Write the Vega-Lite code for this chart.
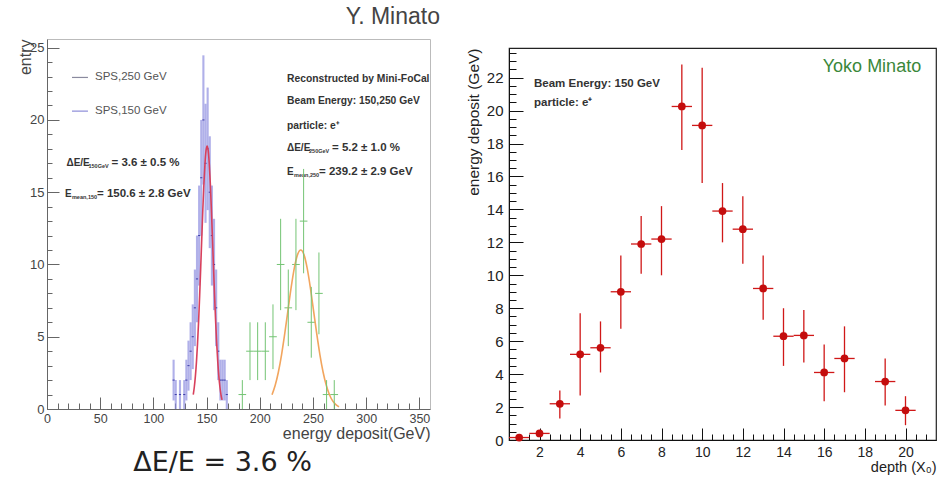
{
  "$schema": "https://vega.github.io/schema/vega-lite/v6.json",
  "background": "white",
  "padding": {"left": 16, "top": 5, "right": 8, "bottom": 0},
  "config": {"font": "Liberation Sans"},
  "spacing": 24,
  "datasets": {
    "blue": [
      {"e0": 118, "e1": 120, "n": 2, "lo": 0.59, "hi": 3.41},
      {"e0": 120, "e1": 122, "n": 1, "lo": 0, "hi": 2},
      {"e0": 124, "e1": 126, "n": 1, "lo": 0, "hi": 2},
      {"e0": 128, "e1": 130, "n": 1, "lo": 0, "hi": 2},
      {"e0": 130, "e1": 132, "n": 2, "lo": 0.59, "hi": 3.41},
      {"e0": 132, "e1": 134, "n": 3, "lo": 1.27, "hi": 4.73},
      {"e0": 134, "e1": 136, "n": 4, "lo": 2, "hi": 6},
      {"e0": 136, "e1": 138, "n": 5, "lo": 2.76, "hi": 7.24},
      {"e0": 138, "e1": 140, "n": 7, "lo": 4.35, "hi": 9.65},
      {"e0": 140, "e1": 142, "n": 9, "lo": 6, "hi": 12},
      {"e0": 142, "e1": 144, "n": 12, "lo": 8.54, "hi": 15.46},
      {"e0": 144, "e1": 146, "n": 16, "lo": 12, "hi": 20},
      {"e0": 146, "e1": 148, "n": 20, "lo": 15.53, "hi": 24.47},
      {"e0": 148, "e1": 150, "n": 17, "lo": 12.88, "hi": 21.12},
      {"e0": 150, "e1": 152, "n": 18, "lo": 13.76, "hi": 22.24},
      {"e0": 152, "e1": 154, "n": 15, "lo": 11.13, "hi": 18.87},
      {"e0": 154, "e1": 156, "n": 12, "lo": 8.54, "hi": 15.46},
      {"e0": 156, "e1": 158, "n": 10, "lo": 6.84, "hi": 13.16},
      {"e0": 158, "e1": 160, "n": 7, "lo": 4.35, "hi": 9.65},
      {"e0": 160, "e1": 162, "n": 4, "lo": 2, "hi": 6},
      {"e0": 162, "e1": 164, "n": 2, "lo": 0.59, "hi": 3.41},
      {"e0": 164, "e1": 166, "n": 2, "lo": 0.59, "hi": 3.41},
      {"e0": 166, "e1": 168, "n": 2, "lo": 0.59, "hi": 3.41},
      {"e0": 168, "e1": 170, "n": 1, "lo": 0, "hi": 2}
    ],
    "green": [
      {"c": 183.6, "e0": 180, "e1": 187.2, "n": 1, "lo": 0, "hi": 2},
      {"c": 190.8, "e0": 187.2, "e1": 194.4, "n": 4, "lo": 2, "hi": 6},
      {"c": 198, "e0": 194.4, "e1": 201.6, "n": 4, "lo": 2, "hi": 6},
      {"c": 205.2, "e0": 201.6, "e1": 208.8, "n": 4, "lo": 2, "hi": 6},
      {"c": 212.4, "e0": 208.8, "e1": 216, "n": 5, "lo": 2.76, "hi": 7.24},
      {"c": 219.6, "e0": 216, "e1": 223.2, "n": 10, "lo": 6.84, "hi": 13.16},
      {"c": 226.8, "e0": 223.2, "e1": 230.4, "n": 7, "lo": 4.35, "hi": 9.65},
      {"c": 234, "e0": 230.4, "e1": 237.6, "n": 10, "lo": 6.84, "hi": 13.16},
      {"c": 241.2, "e0": 237.6, "e1": 244.8, "n": 13, "lo": 9.39, "hi": 16.61},
      {"c": 248.4, "e0": 244.8, "e1": 252, "n": 6, "lo": 3.55, "hi": 8.45},
      {"c": 255.6, "e0": 252, "e1": 259.2, "n": 8, "lo": 5.17, "hi": 10.83},
      {"c": 262.8, "e0": 259.2, "e1": 266.4, "n": 1, "lo": 0, "hi": 2},
      {"c": 270, "e0": 266.4, "e1": 273.6, "n": 1, "lo": 0, "hi": 2}
    ],
    "redfit": [
      {"x": 137.5, "y": 1.0}, {"x": 138.5, "y": 1.54}, {"x": 139.5, "y": 2.29}, {"x": 140.5, "y": 3.28},
      {"x": 141.5, "y": 4.54}, {"x": 142.5, "y": 6.07}, {"x": 143.5, "y": 7.86}, {"x": 144.5, "y": 9.82},
      {"x": 145.5, "y": 11.85}, {"x": 146.5, "y": 13.84}, {"x": 147.5, "y": 15.6}, {"x": 148.5, "y": 16.99},
      {"x": 149.5, "y": 17.89}, {"x": 150.5, "y": 18.2}, {"x": 151.5, "y": 17.89}, {"x": 152.5, "y": 16.99},
      {"x": 153.5, "y": 15.6}, {"x": 154.5, "y": 13.84}, {"x": 155.5, "y": 11.85}, {"x": 156.5, "y": 9.82},
      {"x": 157.5, "y": 7.86}, {"x": 158.5, "y": 6.07}, {"x": 159.5, "y": 4.54}, {"x": 160.5, "y": 3.28},
      {"x": 161.5, "y": 2.29}, {"x": 162.5, "y": 1.54}, {"x": 163.5, "y": 1.0}, {"x": 164.5, "y": 0.63}
    ],
    "orangefit": [
      {"x": 211.5, "y": 0.99}, {"x": 214.5, "y": 1.64}, {"x": 217.5, "y": 2.56}, {"x": 220.5, "y": 3.77},
      {"x": 223.5, "y": 5.23}, {"x": 226.5, "y": 6.83}, {"x": 229.5, "y": 8.42}, {"x": 232.5, "y": 9.77},
      {"x": 235.5, "y": 10.68}, {"x": 238.5, "y": 11.0}, {"x": 241.5, "y": 10.68}, {"x": 244.5, "y": 9.77},
      {"x": 247.5, "y": 8.42}, {"x": 250.5, "y": 6.83}, {"x": 253.5, "y": 5.23}, {"x": 256.5, "y": 3.77},
      {"x": 259.5, "y": 2.56}, {"x": 262.5, "y": 1.64}, {"x": 265.5, "y": 0.99}, {"x": 268.5, "y": 0.56},
      {"x": 271.5, "y": 0.3}, {"x": 274.5, "y": 0.15}
    ],
    "depth": [
      {"depth": 1, "d0": 0.5, "d1": 1.5, "v": 0.15, "lo": 0.05, "hi": 0.25},
      {"depth": 2, "d0": 1.5, "d1": 2.5, "v": 0.4, "lo": 0.2, "hi": 0.6},
      {"depth": 3, "d0": 2.5, "d1": 3.5, "v": 2.2, "lo": 1.3, "hi": 3.0},
      {"depth": 4, "d0": 3.5, "d1": 4.5, "v": 5.2, "lo": 2.7, "hi": 7.7},
      {"depth": 5, "d0": 4.5, "d1": 5.5, "v": 5.6, "lo": 4.1, "hi": 7.2},
      {"depth": 6, "d0": 5.5, "d1": 6.5, "v": 9.0, "lo": 6.75, "hi": 11.2},
      {"depth": 7, "d0": 6.5, "d1": 7.5, "v": 11.9, "lo": 10.1, "hi": 13.6},
      {"depth": 8, "d0": 7.5, "d1": 8.5, "v": 12.2, "lo": 10.0, "hi": 14.2},
      {"depth": 9, "d0": 8.5, "d1": 9.5, "v": 20.25, "lo": 17.6, "hi": 22.8},
      {"depth": 10, "d0": 9.5, "d1": 10.5, "v": 19.1, "lo": 15.6, "hi": 22.6},
      {"depth": 11, "d0": 10.5, "d1": 11.5, "v": 13.9, "lo": 12.0, "hi": 15.6},
      {"depth": 12, "d0": 11.5, "d1": 12.5, "v": 12.8, "lo": 10.7, "hi": 14.8},
      {"depth": 13, "d0": 12.5, "d1": 13.5, "v": 9.2, "lo": 7.3, "hi": 11.2},
      {"depth": 14, "d0": 13.5, "d1": 14.5, "v": 6.3, "lo": 4.5, "hi": 8.0},
      {"depth": 15, "d0": 14.5, "d1": 15.5, "v": 6.35, "lo": 4.7, "hi": 7.9},
      {"depth": 16, "d0": 15.5, "d1": 16.5, "v": 4.1, "lo": 2.35, "hi": 5.8},
      {"depth": 17, "d0": 16.5, "d1": 17.5, "v": 4.95, "lo": 2.9, "hi": 6.9},
      {"depth": 19, "d0": 18.5, "d1": 19.5, "v": 3.55, "lo": 2.1, "hi": 4.95},
      {"depth": 20, "d0": 19.5, "d1": 20.5, "v": 1.8, "lo": 0.9, "hi": 2.66}
    ]
  },
  "hconcat": [
    {
      "width": 383,
      "height": 370,
      "title": {"text": "Y. Minato", "anchor": "end", "dx": 10, "fontSize": 23, "font": "Liberation Sans", "fontWeight": "normal", "color": "#444", "offset": 10},
      "view": {"stroke": "#bbb", "strokeWidth": 1},
      "resolve": {"scale": {"x": "independent", "y": "independent"}, "axis": {"x": "independent", "y": "independent"}},
      "layer": [
        {
          "layer": [
            {
              "data": {"name": "blue"},
              "mark": {"type": "rect", "fill": "#8f8fe0", "opacity": 0.7},
              "encoding": {
                "x": {"field": "e0", "type": "quantitative", "scale": {"domain": [0, 360], "nice": false, "zero": false},
                  "axis": {"title": "energy deposit(GeV)", "titleAnchor": "end", "titleFont": "Liberation Sans", "titleFontSize": 16, "titleFontWeight": "normal", "titleColor": "#444", "titlePadding": 1,
                    "values": [0,50,100,150,200,250,300,350],
                    "labelFont": "Liberation Sans", "labelFontSize": 12.5, "labelColor": "#444", "labelPadding": 15, "labelFlush": false, "labelOverlap": false,
                    "tickSize": -12, "tickColor": "#666", "domainColor": "#666", "grid": false, "orient": "bottom"}},
                "x2": {"field": "e1"},
                "y": {"field": "lo", "type": "quantitative", "scale": {"domain": [0, 25.6], "nice": false, "zero": false},
                  "axis": {"title": "entry", "titleAnchor": "end", "titleFont": "Liberation Sans", "titleFontSize": 16, "titleFontWeight": "normal", "titleColor": "#444", "titleX": -14,
                    "values": [0,5,10,15,20,25],
                    "labelFont": "Liberation Sans", "labelFontSize": 13, "labelColor": "#444", "labelPadding": 15, "labelFlush": false, "labelOverlap": false,
                    "tickSize": -12, "tickColor": "#666", "domainColor": "#666", "grid": false, "orient": "left"}},
                "y2": {"field": "hi"}
              }
            },
            {
              "data": {"name": "blue"},
              "mark": {"type": "rule", "color": "#3c3ca8", "strokeWidth": 1},
              "encoding": {
                "x": {"field": "e0", "type": "quantitative"},
                "x2": {"field": "e1"},
                "y": {"field": "n", "type": "quantitative"}
              }
            },
            {
              "data": {"name": "green"},
              "mark": {"type": "rule", "color": "#74c474", "strokeWidth": 1},
              "encoding": {
                "x": {"field": "e0", "type": "quantitative"},
                "x2": {"field": "e1"},
                "y": {"field": "n", "type": "quantitative"}
              }
            },
            {
              "data": {"name": "redfit"},
              "mark": {"type": "line", "color": "#d8405c", "strokeWidth": 1.6, "interpolate": "monotone"},
              "encoding": {
                "x": {"field": "x", "type": "quantitative"},
                "y": {"field": "y", "type": "quantitative"}
              }
            },
            {
              "data": {"name": "orangefit"},
              "mark": {"type": "line", "color": "#f2a55e", "strokeWidth": 1.6, "interpolate": "monotone"},
              "encoding": {
                "x": {"field": "x", "type": "quantitative"},
                "y": {"field": "y", "type": "quantitative"}
              }
            },
            {
              "data": {"values": [{}]},
              "mark": {"type": "rule", "color": "#8a8a9e", "strokeWidth": 1.2},
              "encoding": {"x": {"datum": 23.5, "type": "quantitative"}, "x2": {"datum": 38.5}, "y": {"datum": 22.94, "type": "quantitative"}}
            },
            {
              "data": {"values": [{}]},
              "mark": {"type": "rule", "color": "#8c8cd8", "strokeWidth": 1.2},
              "encoding": {"x": {"datum": 23.5, "type": "quantitative"}, "x2": {"datum": 38.5}, "y": {"datum": 20.61, "type": "quantitative"}}
            },
            {
              "data": {"values": [{}]},
              "mark": {"type": "text", "text": "SPS,250 GeV", "align": "left", "baseline": "middle", "fontSize": 11.5, "color": "#555"},
              "encoding": {"x": {"datum": 45.1, "type": "quantitative"}, "y": {"datum": 22.94, "type": "quantitative"}}
            },
            {
              "data": {"values": [{}]},
              "mark": {"type": "text", "text": "SPS,150 GeV", "align": "left", "baseline": "middle", "fontSize": 11.5, "color": "#555"},
              "encoding": {"x": {"datum": 45.1, "type": "quantitative"}, "y": {"datum": 20.61, "type": "quantitative"}}
            },
            {
              "data": {"values": [{}]},
              "mark": {"type": "text", "text": "ΔE/E", "align": "left", "baseline": "middle", "fontSize": 10, "fontWeight": "bold", "color": "#333"},
              "encoding": {"x": {"datum": 18.3, "type": "quantitative"}, "y": {"datum": 17.02, "type": "quantitative"}}
            },
            {
              "data": {"values": [{}]},
              "mark": {"type": "text", "text": "150GeV", "align": "left", "baseline": "middle", "fontSize": 5.5, "fontWeight": "bold", "color": "#333", "dx": 22, "dy": 3},
              "encoding": {"x": {"datum": 18.3, "type": "quantitative"}, "y": {"datum": 17.02, "type": "quantitative"}}
            },
            {
              "data": {"values": [{}]},
              "mark": {"type": "text", "text": "= 3.6 ± 0.5 %", "align": "left", "baseline": "middle", "fontSize": 11.5, "fontWeight": "bold", "color": "#333", "dx": 45},
              "encoding": {"x": {"datum": 18.3, "type": "quantitative"}, "y": {"datum": 17.02, "type": "quantitative"}}
            },
            {
              "data": {"values": [{}]},
              "mark": {"type": "text", "text": "E", "align": "left", "baseline": "middle", "fontSize": 10, "fontWeight": "bold", "color": "#333"},
              "encoding": {"x": {"datum": 16.9, "type": "quantitative"}, "y": {"datum": 14.9, "type": "quantitative"}}
            },
            {
              "data": {"values": [{}]},
              "mark": {"type": "text", "text": "mean,150", "align": "left", "baseline": "middle", "fontSize": 5.5, "fontWeight": "bold", "color": "#333", "dx": 7, "dy": 3},
              "encoding": {"x": {"datum": 16.9, "type": "quantitative"}, "y": {"datum": 14.9, "type": "quantitative"}}
            },
            {
              "data": {"values": [{}]},
              "mark": {"type": "text", "text": "= 150.6 ± 2.8 GeV", "align": "left", "baseline": "middle", "fontSize": 11.5, "fontWeight": "bold", "color": "#333", "dx": 32},
              "encoding": {"x": {"datum": 16.9, "type": "quantitative"}, "y": {"datum": 14.9, "type": "quantitative"}}
            },
            {
              "data": {"values": [{}]},
              "mark": {"type": "text", "text": "Reconstructed by Mini-FoCal", "align": "left", "baseline": "middle", "fontSize": 10.3, "fontWeight": "bold", "color": "#333"},
              "encoding": {"x": {"datum": 225.6, "type": "quantitative"}, "y": {"datum": 22.84, "type": "quantitative"}}
            },
            {
              "data": {"values": [{}]},
              "mark": {"type": "text", "text": "Beam Energy: 150,250 GeV", "align": "left", "baseline": "middle", "fontSize": 10.3, "fontWeight": "bold", "color": "#333"},
              "encoding": {"x": {"datum": 225.6, "type": "quantitative"}, "y": {"datum": 21.31, "type": "quantitative"}}
            },
            {
              "data": {"values": [{}]},
              "mark": {"type": "text", "text": "particle: e⁺", "align": "left", "baseline": "middle", "fontSize": 10.3, "fontWeight": "bold", "color": "#333"},
              "encoding": {"x": {"datum": 225.6, "type": "quantitative"}, "y": {"datum": 19.58, "type": "quantitative"}}
            },
            {
              "data": {"values": [{}]},
              "mark": {"type": "text", "text": "ΔE/E", "align": "left", "baseline": "middle", "fontSize": 10, "fontWeight": "bold", "color": "#333"},
              "encoding": {"x": {"datum": 225.6, "type": "quantitative"}, "y": {"datum": 18.04, "type": "quantitative"}}
            },
            {
              "data": {"values": [{}]},
              "mark": {"type": "text", "text": "250GeV", "align": "left", "baseline": "middle", "fontSize": 5.5, "fontWeight": "bold", "color": "#333", "dx": 22, "dy": 3},
              "encoding": {"x": {"datum": 225.6, "type": "quantitative"}, "y": {"datum": 18.04, "type": "quantitative"}}
            },
            {
              "data": {"values": [{}]},
              "mark": {"type": "text", "text": "= 5.2 ± 1.0 %", "align": "left", "baseline": "middle", "fontSize": 11.5, "fontWeight": "bold", "color": "#333", "dx": 45},
              "encoding": {"x": {"datum": 225.6, "type": "quantitative"}, "y": {"datum": 18.04, "type": "quantitative"}}
            },
            {
              "data": {"values": [{}]},
              "mark": {"type": "text", "text": "E", "align": "left", "baseline": "middle", "fontSize": 10, "fontWeight": "bold", "color": "#333"},
              "encoding": {"x": {"datum": 225.6, "type": "quantitative"}, "y": {"datum": 16.41, "type": "quantitative"}}
            },
            {
              "data": {"values": [{}]},
              "mark": {"type": "text", "text": "mean,250", "align": "left", "baseline": "middle", "fontSize": 5.5, "fontWeight": "bold", "color": "#333", "dx": 7, "dy": 3},
              "encoding": {"x": {"datum": 225.6, "type": "quantitative"}, "y": {"datum": 16.41, "type": "quantitative"}}
            },
            {
              "data": {"values": [{}]},
              "mark": {"type": "text", "text": "= 239.2 ± 2.9 GeV", "align": "left", "baseline": "middle", "fontSize": 11.5, "fontWeight": "bold", "color": "#333", "dx": 32},
              "encoding": {"x": {"datum": 225.6, "type": "quantitative"}, "y": {"datum": 16.41, "type": "quantitative"}}
            },
            {
              "data": {"values": [{}]},
              "mark": {"type": "text", "text": "ΔE/E = 3.6 %", "align": "center", "baseline": "middle", "font": "DejaVu Sans", "fontSize": 27, "color": "#222"},
              "encoding": {"x": {"datum": 165, "type": "quantitative"}, "y": {"datum": -3.72, "type": "quantitative"}}
            }
          ]
        },
        {
          "data": {"name": "green"},
          "mark": {"type": "rule", "color": "#74c474", "strokeWidth": 1},
          "encoding": {
            "x": {"field": "c", "type": "quantitative", "scale": {"domain": [0, 360], "nice": false, "zero": false},
              "axis": {"title": null, "orient": "bottom", "values": [10,20,30,40,60,70,80,90,110,120,130,140,160,170,180,190,210,220,230,240,260,270,280,290,310,320,330,340],
                "labels": false, "domain": false, "tickSize": -6, "tickColor": "#666", "grid": false}},
            "y": {"field": "lo", "type": "quantitative", "scale": {"domain": [0, 25.6], "nice": false, "zero": false},
              "axis": {"title": null, "orient": "left", "values": [1,2,3,4,6,7,8,9,11,12,13,14,16,17,18,19,21,22,23,24],
                "labels": false, "domain": false, "tickSize": -5, "tickColor": "#666", "grid": false}},
            "y2": {"field": "hi"}
          }
        }
      ]
    },
    {
      "spacing": 0,
      "vconcat": [
        {
          "width": 427,
          "height": 8,
          "view": {"stroke": null},
          "data": {"values": []},
          "mark": "point"
        },
        {
          "width": 427,
          "height": 392,
          "view": {"stroke": "#222", "strokeWidth": 1.2},
          "resolve": {"scale": {"x": "independent", "y": "independent"}, "axis": {"x": "independent", "y": "independent"}},
          "layer": [
            {
              "layer": [
                {
                  "data": {"name": "depth"},
                  "mark": {"type": "rule", "color": "#d01818", "strokeWidth": 1.3},
                  "encoding": {
                    "x": {"field": "depth", "type": "quantitative", "scale": {"domain": [0.5, 21.5], "nice": false, "zero": false},
                      "axis": {"title": "depth (X₀)", "titleAnchor": "end", "titleFontSize": 14.5, "titleFontWeight": "normal", "titleColor": "#222", "titlePadding": 1,
                        "values": [2,4,6,8,10,12,14,16,18,20],
                        "labelFontSize": 14, "labelColor": "#222", "labelPadding": 17, "labelFlush": false, "labelOverlap": false,
                        "tickSize": -12, "tickColor": "#111", "domainColor": "#111", "grid": false, "orient": "bottom"}},
                    "y": {"field": "lo", "type": "quantitative", "scale": {"domain": [0, 23.8], "nice": false, "zero": false},
                      "axis": {"title": "energy deposit (GeV)", "titleAnchor": "end", "titleFontSize": 15.5, "titleFontWeight": "normal", "titleColor": "#222", "titlePadding": 5,
                        "values": [0,4,8,12,16,20],
                        "labelFontSize": 15, "labelColor": "#222", "labelPadding": 20, "labelFlush": false, "labelOverlap": false,
                        "tickSize": -14, "tickColor": "#111", "domainColor": "#111", "grid": false, "orient": "left"}},
                    "y2": {"field": "hi"}
                  }
                },
                {
                  "data": {"values": [{}]},
                  "mark": {"type": "text", "text": "Beam Energy: 150 GeV", "align": "left", "baseline": "middle", "fontSize": 11.5, "fontWeight": "bold", "color": "#333"},
                  "encoding": {"x": {"datum": 1.73, "type": "quantitative"}, "y": {"datum": 21.64, "type": "quantitative"}}
                },
                {
                  "data": {"values": [{}]},
                  "mark": {"type": "text", "text": "particle: e⁺", "align": "left", "baseline": "middle", "fontSize": 11.5, "fontWeight": "bold", "color": "#333"},
                  "encoding": {"x": {"datum": 1.73, "type": "quantitative"}, "y": {"datum": 20.48, "type": "quantitative"}}
                },
                {
                  "data": {"values": [{}]},
                  "mark": {"type": "text", "text": "Yoko Minato", "align": "right", "baseline": "middle", "fontSize": 18, "color": "#3a873a"},
                  "encoding": {"x": {"datum": 20.77, "type": "quantitative"}, "y": {"datum": 22.65, "type": "quantitative"}}
                }
              ]
            },
            {
              "data": {"name": "depth"},
              "mark": {"type": "rule", "color": "#d01818", "strokeWidth": 1.3},
              "encoding": {
                "x": {"field": "d0", "type": "quantitative", "scale": {"domain": [0.5, 21.5], "nice": false, "zero": false},
                  "axis": {"title": null, "orient": "bottom", "values": [1,1.5,2.5,3,3.5,4.5,5,5.5,6.5,7,7.5,8.5,9,9.5,10.5,11,11.5,12.5,13,13.5,14.5,15,15.5,16.5,17,17.5,18.5,19,19.5,20.5,21],
                    "labels": false, "domain": false, "tickSize": -6, "tickColor": "#111", "grid": false}},
                "x2": {"field": "d1"},
                "y": {"field": "v", "type": "quantitative", "scale": {"domain": [0, 23.8], "nice": false, "zero": false},
                  "axis": {"title": null, "orient": "left", "values": [0.5,1,1.5,2.5,3,3.5,4.5,5,5.5,6.5,7,7.5,8.5,9,9.5,10.5,11,11.5,12.5,13,13.5,14.5,15,15.5,16.5,17,17.5,18.5,19,19.5,20.5,21,21.5,22.5,23,23.5],
                    "labels": false, "domain": false, "tickSize": -7, "tickColor": "#111", "grid": false}}
              }
            },
            {
              "data": {"name": "depth"},
              "mark": {"type": "circle", "color": "#c40d0d", "opacity": 1, "size": 60},
              "encoding": {
                "x": {"field": "depth", "type": "quantitative", "scale": {"domain": [0.5, 21.5], "nice": false, "zero": false}, "axis": null},
                "y": {"field": "v", "type": "quantitative", "scale": {"domain": [0, 23.8], "nice": false, "zero": false},
                  "axis": {"title": null, "orient": "left", "values": [2,6,10,14,18,22],
                    "labelFontSize": 15, "labelColor": "#222", "labelPadding": 20, "labelFlush": false, "labelOverlap": false,
                    "tickSize": -14, "tickColor": "#111", "domain": false, "grid": false}}
              }
            }
          ]
        }
      ]
    }
  ]
}
